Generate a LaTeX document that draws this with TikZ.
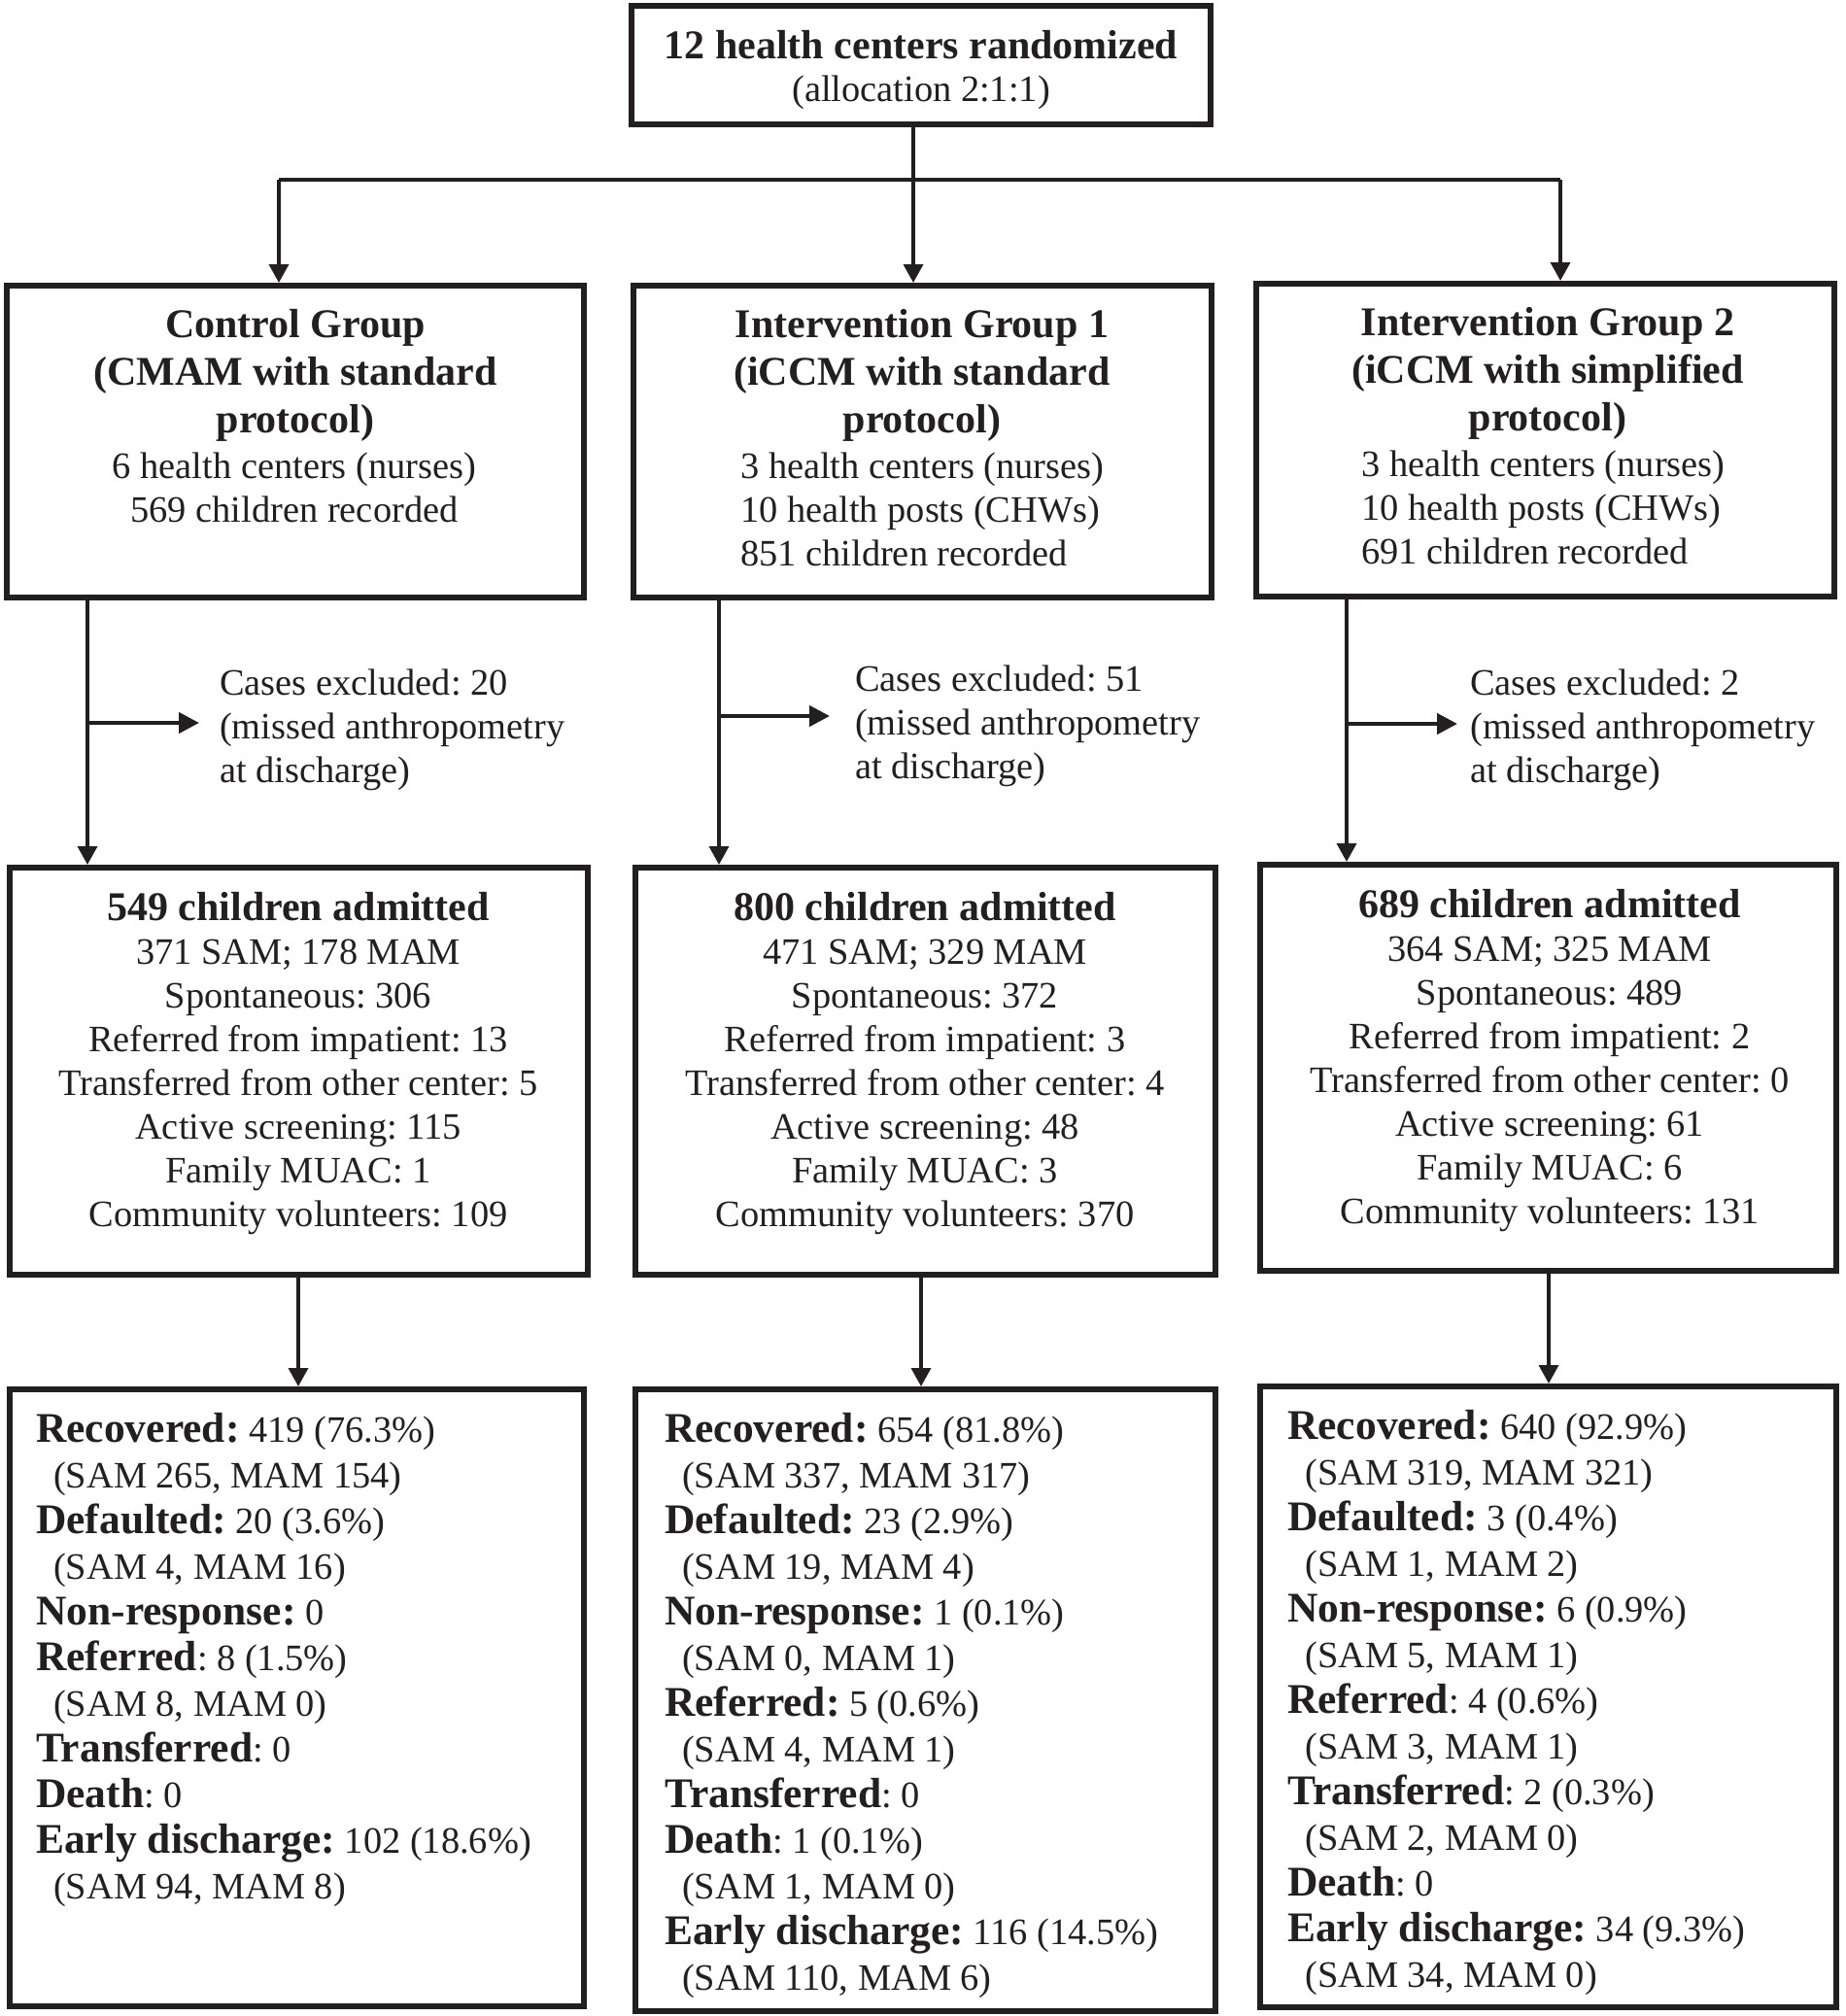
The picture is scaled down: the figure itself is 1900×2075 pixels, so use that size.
\documentclass[tikz,border=0pt]{standalone}
\usepackage{fontspec}
\setmainfont{Liberation Serif}
\usetikzlibrary{arrows.meta}
\definecolor{ink}{RGB}{35,31,32}
\newcommand\boldpart[1]{{\fontsize{43.5}{47}\selectfont\bfseries #1}}
\newcommand\subind{\hspace*{18pt}}
\frenchspacing
\begin{document}
\begin{tikzpicture}[x=1pt,y=-1pt,
  box/.style={draw=ink, line width=6pt, inner sep=0pt},
  conn/.style={draw=ink, line width=3.5pt},
  arr/.style={conn, -{Triangle[length=19pt,width=20pt]}},
  sarr/.style={draw=ink, line width=4.5pt, -{Triangle[length=21pt,width=21pt]}},
  btxt/.style={inner sep=0pt, text=ink, font=\frenchspacing\fontsize{42}{49}\selectfont\bfseries},
  rtxt/.style={inner sep=0pt, text=ink, font=\frenchspacing\fontsize{38.4}{45}\selectfont},
  ltxt/.style={inner sep=0pt, text=ink, font=\frenchspacing\fontsize{38.4}{47}\selectfont, align=left, anchor=north west}]
\useasboundingbox (0,0) rectangle (1900,2075);

% ---------- boxes ----------
\node[box, minimum width=596pt, minimum height=122pt] (top) at (948,67) {};
\node[box, minimum width=594pt, minimum height=321pt] (g1) at (304,454.5) {};
\node[box, minimum width=595pt, minimum height=321pt] (g2) at (949.5,454.5) {};
\node[box, minimum width=595pt, minimum height=322pt] (g3) at (1590.5,453) {};
\node[box, minimum width=595pt, minimum height=419pt] (a1) at (307.5,1102.5) {};
\node[box, minimum width=597pt, minimum height=419pt] (a2) at (952.5,1102.5) {};
\node[box, minimum width=593pt, minimum height=418pt] (a3) at (1593.5,1099) {};
\node[box, minimum width=591pt, minimum height=635pt] (r1) at (305.5,1747.5) {};
\node[box, minimum width=597pt, minimum height=640pt] (r2) at (952.5,1750) {};
\node[box, minimum width=593pt, minimum height=639pt] (r3) at (1593.5,1746.5) {};

% ---------- top text ----------
\node[btxt, anchor=base] (tt1) at (948,60) {12 health centers randomized};
\node[rtxt, anchor=base] (tt2) at (948,104) {(allocation 2:1:1)};

% ---------- group boxes text ----------
\node[btxt, align=center, anchor=north] (g1t) at (304,312.7) {\strut Control Group\\(CMAM with standard\\protocol)};
\node[rtxt, align=center, anchor=north] (g1d) at (303,460.5) {\strut 6 health centers (nurses)\\569 children recorded};
\node[btxt, align=center, anchor=north] (g2t) at (949,312.7) {\strut Intervention Group 1\\(iCCM with standard\\protocol)};
\node[rtxt, align=left, anchor=north west] (g2d) at (762,460.5) {\strut 3 health centers (nurses)\\10 health posts (CHWs)\\851 children recorded};
\node[btxt, align=center, anchor=north] (g3t) at (1593,310.7) {\strut Intervention Group 2\\(iCCM with simplified\\protocol)};
\node[rtxt, align=left, anchor=north west] (g3d) at (1401,458.5) {\strut 3 health centers (nurses)\\10 health posts (CHWs)\\691 children recorded};

% ---------- excluded ----------
\node[rtxt, align=left, anchor=north west] (ex1) at (226,683.5) {\strut Cases excluded: 20\\(missed anthropometry\\at discharge)};
\node[rtxt, align=left, anchor=north west] (ex2) at (880,679.5) {\strut Cases excluded: 51\\(missed anthropometry\\at discharge)};
\node[rtxt, align=left, anchor=north west] (ex3) at (1513,683.5) {\strut Cases excluded: 2\\(missed anthropometry\\at discharge)};

% ---------- admitted ----------
\node[btxt, anchor=base] (a1t) at (307,947) {549 children admitted};
\node[rtxt, align=center, anchor=north] (a1d) at (307,960.5) {\strut 371 SAM; 178 MAM\\Spontaneous: 306\\Referred from impatient: 13\\Transferred from other center: 5\\Active screening: 115\\Family MUAC: 1\\Community volunteers: 109};
\node[btxt, anchor=base] (a2t) at (952,947) {800 children admitted};
\node[rtxt, align=center, anchor=north] (a2d) at (952,960.5) {\strut 471 SAM; 329 MAM\\Spontaneous: 372\\Referred from impatient: 3\\Transferred from other center: 4\\Active screening: 48\\Family MUAC: 3\\Community volunteers: 370};
\node[btxt, anchor=base] (a3t) at (1595,944) {689 children admitted};
\node[rtxt, align=center, anchor=north] (a3d) at (1595,957.5) {\strut 364 SAM; 325 MAM\\Spontaneous: 489\\Referred from impatient: 2\\Transferred from other center: 0\\Active screening: 61\\Family MUAC: 6\\Community volunteers: 131};

% ---------- outcomes ----------
\node[ltxt] (r1d) at (37,1451.7) {\strut\boldpart{Recovered:} 419 (76.3\%)\\
\subind(SAM 265, MAM 154)\\
\boldpart{Defaulted:} 20 (3.6\%)\\
\subind(SAM 4, MAM 16)\\
\boldpart{Non-response:} 0\\
\boldpart{Referred}: 8 (1.5\%)\\
\subind(SAM 8, MAM 0)\\
\boldpart{Transferred}: 0\\
\boldpart{Death}: 0\\
\boldpart{Early discharge:} 102 (18.6\%)\\
\subind(SAM 94, MAM 8)};
\node[ltxt] (r2d) at (684,1451.7) {\strut\boldpart{Recovered:} 654 (81.8\%)\\
\subind(SAM 337, MAM 317)\\
\boldpart{Defaulted:} 23 (2.9\%)\\
\subind(SAM 19, MAM 4)\\
\boldpart{Non-response:} 1 (0.1\%)\\
\subind(SAM 0, MAM 1)\\
\boldpart{Referred:} 5 (0.6\%)\\
\subind(SAM 4, MAM 1)\\
\boldpart{Transferred}: 0\\
\boldpart{Death}: 1 (0.1\%)\\
\subind(SAM 1, MAM 0)\\
\boldpart{Early discharge:} 116 (14.5\%)\\
\subind(SAM 110, MAM 6)};
\node[ltxt] (r3d) at (1325,1448.7) {\strut\boldpart{Recovered:} 640 (92.9\%)\\
\subind(SAM 319, MAM 321)\\
\boldpart{Defaulted:} 3 (0.4\%)\\
\subind(SAM 1, MAM 2)\\
\boldpart{Non-response:} 6 (0.9\%)\\
\subind(SAM 5, MAM 1)\\
\boldpart{Referred}: 4 (0.6\%)\\
\subind(SAM 3, MAM 1)\\
\boldpart{Transferred}: 2 (0.3\%)\\
\subind(SAM 2, MAM 0)\\
\boldpart{Death}: 0\\
\boldpart{Early discharge:} 34 (9.3\%)\\
\subind(SAM 34, MAM 0)};

% ---------- connector coordinates ----------
\coordinate (jc) at (940,185);
\coordinate (jl) at (287,185);
\coordinate (jr) at (1606,185);
\coordinate (v1) at (90,0);
\coordinate (v2) at (740,0);
\coordinate (v3) at (1386,0);
\coordinate (s1a) at (90,744);   \coordinate (s1b) at (205,744);
\coordinate (s2a) at (740,737);  \coordinate (s2b) at (854,737);
\coordinate (s3a) at (1386,745); \coordinate (s3b) at (1500,745);
\coordinate (w1) at (307,0);
\coordinate (w2) at (948,0);
\coordinate (w3) at (1594,0);

% ---------- connectors ----------
\draw[conn] (top.south -| jc) -- (jc);
\draw[conn] (jl) -- (jr);
\draw[arr] (jl) -- (jl |- g1.north);
\draw[arr] (jc) -- (jc |- g2.north);
\draw[arr] (jr) -- (jr |- g3.north);

\draw[arr] (g1.south -| v1) -- (a1.north -| v1);
\draw[arr] (g2.south -| v2) -- (a2.north -| v2);
\draw[arr] (g3.south -| v3) -- (a3.north -| v3);

\draw[sarr] (s1a) -- (s1b);
\draw[sarr] (s2a) -- (s2b);
\draw[sarr] (s3a) -- (s3b);

\draw[arr] (a1.south -| w1) -- (r1.north -| w1);
\draw[arr] (a2.south -| w2) -- (r2.north -| w2);
\draw[arr] (a3.south -| w3) -- (r3.north -| w3);
\end{tikzpicture}
\end{document}
